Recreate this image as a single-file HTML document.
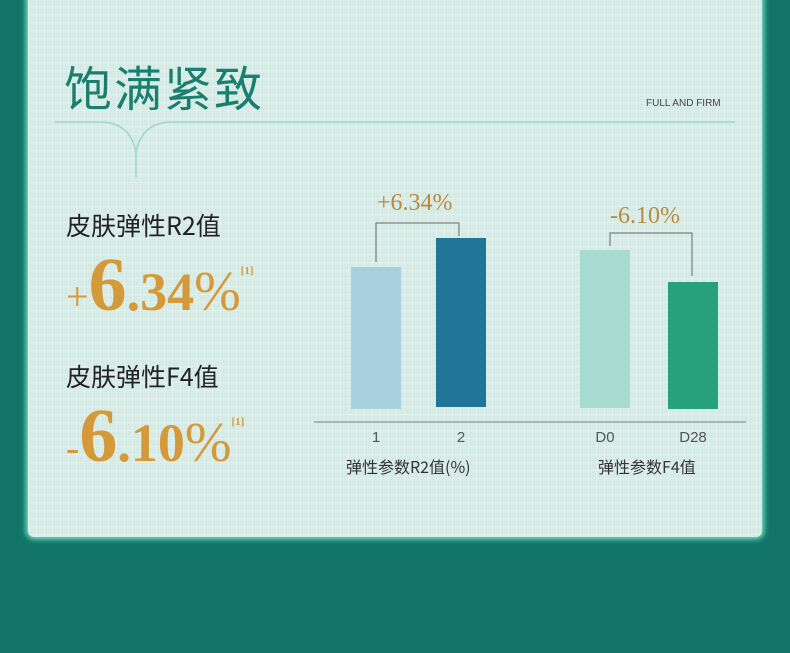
<!DOCTYPE html>
<html><head><meta charset="utf-8"><style>
body{margin:0;width:790px;height:653px;background:#117466;position:relative;overflow:hidden;font-family:"Liberation Sans","Noto Sans CJK SC",sans-serif}
.panel{position:absolute;left:28px;top:-10px;width:734px;height:547px;background:#d5ebe6;border-radius:0 0 6px 6px;box-shadow:0 0 6px 2px #7fe8cf;
background-image:linear-gradient(rgba(255,255,255,.25) 1px,transparent 1px),linear-gradient(90deg,rgba(255,255,255,.25) 1px,transparent 1px);background-size:8px 8px}
.abs{position:absolute}
.title{left:64px;top:50px;font-size:48px;color:#1a7f6e;letter-spacing:2px;font-family:"Noto Sans CJK SC",sans-serif}
.sub{left:646px;top:98px;font-size:10px;color:#444}
.lbl{font-size:25px;color:#222;font-family:"Noto Sans CJK SC",sans-serif}
.big{font-family:"Liberation Serif",serif;color:#d49a3a;font-weight:bold;white-space:nowrap}
.bar{position:absolute}
.tk{font-size:15px;color:#555;text-align:center;width:60px}
.gl{font-size:16px;color:#333;font-family:"Noto Sans CJK SC",sans-serif}
.pv{font-family:"Liberation Serif",serif;color:#b98a3c;font-size:24px}
</style></head><body>
<div class="panel"></div>
<div class="abs title">饱满紧致</div>
<div class="abs sub">FULL AND FIRM</div>
<svg class="abs" style="left:0;top:0" width="790" height="653">
<path d="M55 122 H100 Q130 122 136 152 Q142 122 172 122 H735" fill="none" stroke="#9ad9c6" stroke-width="1.5"/>
<line x1="136" y1="150" x2="136" y2="177" stroke="#9ad9c6" stroke-width="1.5"/>
<line x1="314" y1="422" x2="746" y2="422" stroke="#777" stroke-width="1"/>
<path d="M376 262 V223 H459 V236" fill="none" stroke="#666"/>
<path d="M610 246 V233 H692 V276" fill="none" stroke="#666"/>
</svg>
<div class="abs lbl" style="left:66px;top:207px">皮肤弹性R2值</div>
<div class="abs big" style="left:66px;top:242px"><span style="font-size:40px;font-weight:normal">+</span><span style="font-size:76px">6</span><span style="font-size:54px">.34</span><span style="font-size:56px;font-weight:normal">%</span><sup style="font-size:11px;vertical-align:36px">[1]</sup></div>
<div class="abs lbl" style="left:66px;top:358px">皮肤弹性F4值</div>
<div class="abs big" style="left:66px;top:393px"><span style="font-size:40px;font-weight:normal">-</span><span style="font-size:76px">6</span><span style="font-size:54px">.10</span><span style="font-size:56px;font-weight:normal">%</span><sup style="font-size:11px;vertical-align:36px">[1]</sup></div>
<div class="bar" style="left:351px;top:267px;width:50px;height:142px;background:#a9d0de"></div>
<div class="bar" style="left:436px;top:238px;width:50px;height:169px;background:#217697"></div>
<div class="bar" style="left:580px;top:250px;width:50px;height:158px;background:#a8dbd0"></div>
<div class="bar" style="left:668px;top:282px;width:50px;height:127px;background:#27a07c"></div>
<div class="abs pv" style="left:377px;top:190px">+6.34%</div>
<div class="abs pv" style="left:610px;top:203px">-6.10%</div>
<div class="abs tk" style="left:346px;top:429px">1</div>
<div class="abs tk" style="left:431px;top:429px">2</div>
<div class="abs tk" style="left:575px;top:429px">D0</div>
<div class="abs tk" style="left:663px;top:429px">D28</div>
<div class="abs gl" style="left:346px;top:454px">弹性参数R2值(%)</div>
<div class="abs gl" style="left:598px;top:454px">弹性参数F4值</div>
</body></html>
